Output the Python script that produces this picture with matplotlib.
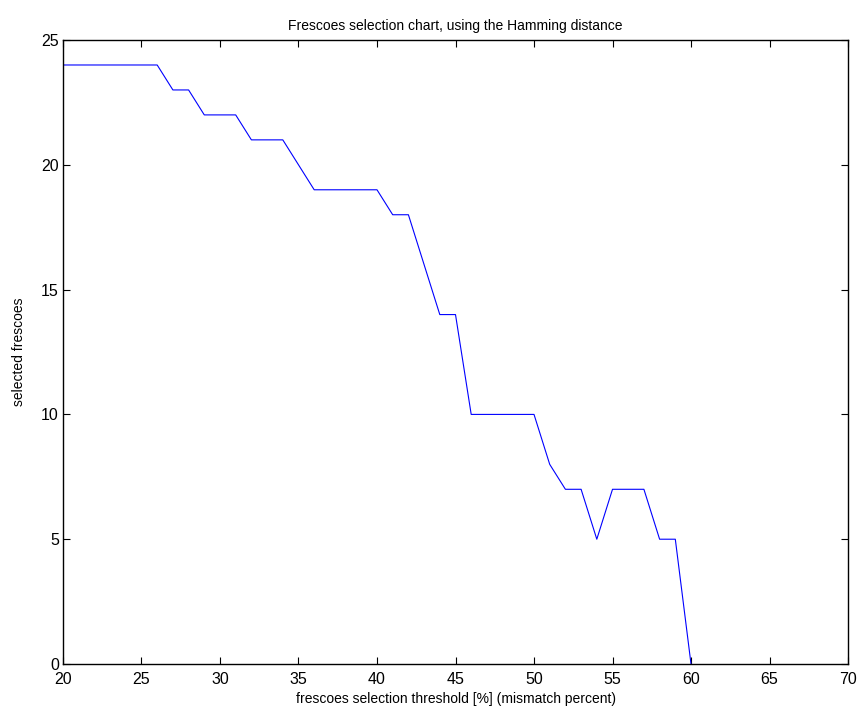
import matplotlib
matplotlib.use("Agg")
import matplotlib.pyplot as plt

plt.rcParams['font.family'] = ['Liberation Sans', 'DejaVu Sans']

threshold = list(range(20, 61))
selected = [24, 24, 24, 24, 24, 24, 24,   # 20-26
            23, 23,                       # 27-28
            22, 22, 22,                   # 29-31
            21, 21, 21,                   # 32-34
            20,                           # 35
            19, 19, 19, 19, 19,           # 36-40
            18, 18,                       # 41-42
            16,                           # 43
            14, 14,                       # 44-45
            10, 10, 10, 10, 10,           # 46-50
            8,                            # 51
            7, 7,                         # 52-53
            5,                            # 54
            7, 7, 7,                      # 55-57
            5, 5,                         # 58-59
            0]                            # 60

fig = plt.figure(figsize=(8.64, 7.11), dpi=100)
ax = fig.add_axes([0.0729, 0.0661, 0.9086, 0.8776])
ax.plot(threshold, selected, color='#0000ff', linewidth=0.8)

ax.set_xlim(20, 70)
ax.set_ylim(0, 25)
ax.set_xticks(range(20, 71, 5))
ax.set_yticks(range(0, 26, 5))
ax.tick_params(direction='in', top=True, right=True, labelsize=11.5, length=5, pad=3)
ax.tick_params(axis='x', pad=6)
for s in ax.spines.values():
    s.set_linewidth(1.0)

ax.set_title('Frescoes selection chart, using the Hamming distance', fontsize=10, pad=7)
ax.set_xlabel('frescoes selection threshold [%] (mismatch percent)', fontsize=10, labelpad=3)
ax.set_ylabel('selected frescoes', fontsize=10, labelpad=11)

fig.savefig('out.png', dpi=100)
